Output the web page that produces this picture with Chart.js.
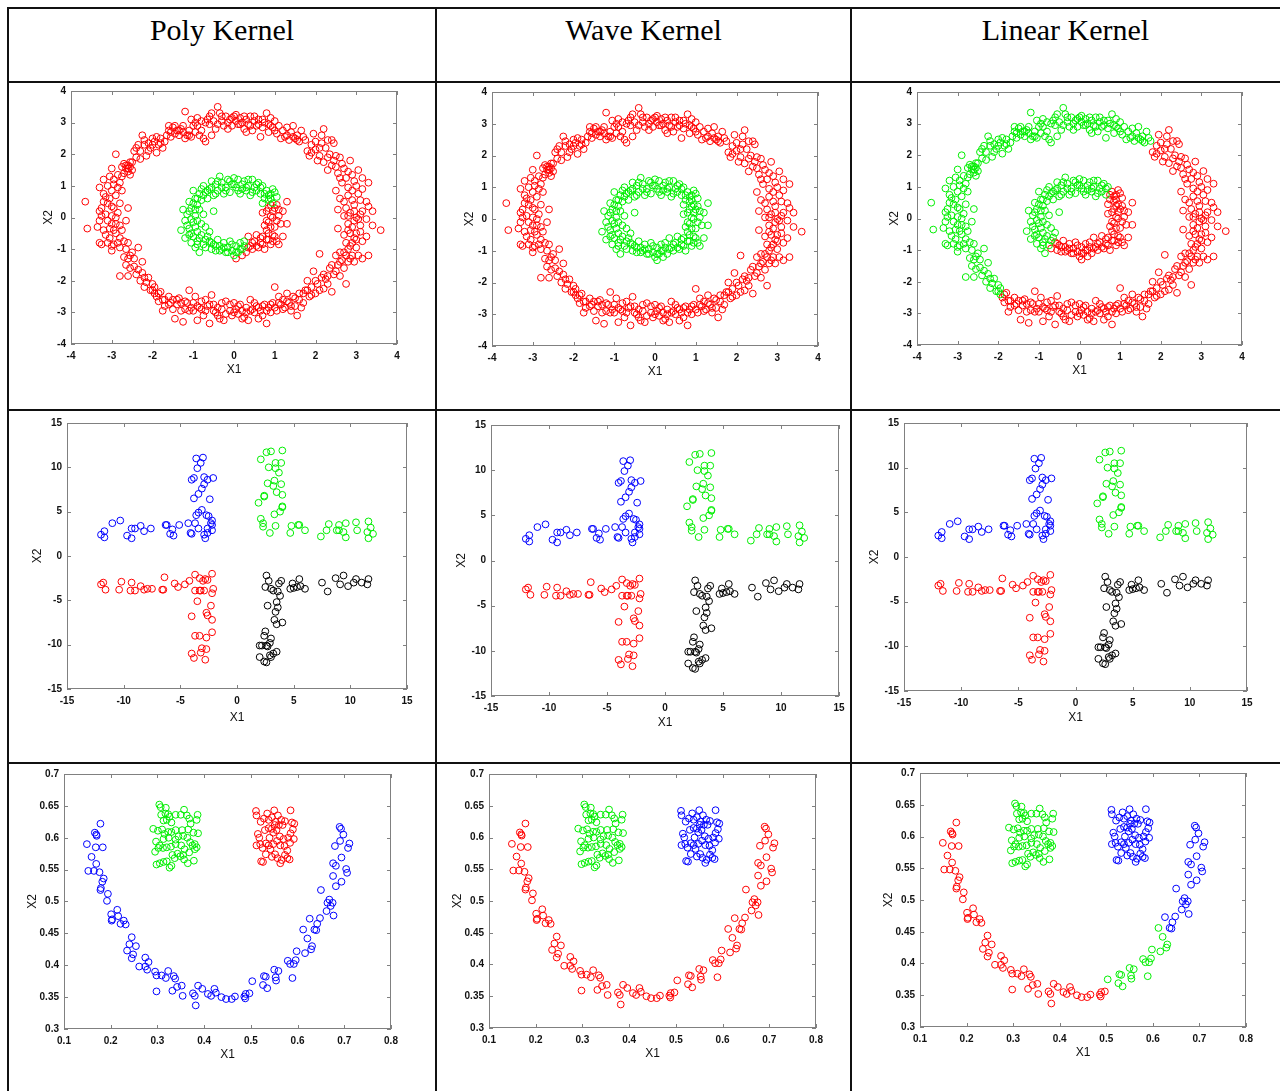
<!DOCTYPE html>
<html>
<head>
<meta charset="utf-8">
<script src="https://cdn.jsdelivr.net/npm/chart.js@4.4.1/dist/chart.umd.min.js"></script>
<style>
  html, body { margin: 0; padding: 0; background: #fff; }
  body { width: 1280px; height: 1091px; position: relative; overflow: hidden; }
  .line { position: absolute; background: #111; }
  .head { position: absolute; top: 15px; height: 30px; line-height: 30px; font-family: 'Liberation Serif', 'DejaVu Serif', serif; font-size: 30px; color: #000; text-align: center; }
  canvas { position: absolute; }
</style>
</head>
<body>
<script>
// column titles
const kernels = ['Poly Kernel', 'Wave Kernel', 'Linear Kernel'];

// tick labels
const ringTicks = [-4, -3, -2, -1, 0, 1, 2, 3, 4];
const crossTicks = [-15, -10, -5, 0, 5, 10, 15];
const smileXTicks = [0.1, 0.2, 0.3, 0.4, 0.5, 0.6, 0.7, 0.8];
const smileYTicks = [0.3, 0.35, 0.4, 0.45, 0.5, 0.55, 0.6, 0.65, 0.7];

// ---- row 1 : two rings ----
// outer ring, upper-left half (green under Linear kernel)
const outerA = [[1.75,2.45],[1.7,2.55],[1.6,2.4],[1.55,2.6],[1.5,2.5],[1.45,2.9],[1.4,2.7],[1.35,2.45],[1.3,2.6],[1.25,2.55],[1.2,2.75],[1.1,2.9],[1.05,2.65],[1.0,3.05],[0.95,2.85],[0.9,2.9],[0.85,2.95],[0.8,3.3],[0.75,3.0],[0.7,3.1],[0.65,2.55],[0.6,3.1],[0.55,2.9],[0.5,3.05],[0.45,2.75],[0.4,3.2],[0.35,2.95],[0.3,3.1],[0.25,2.8],[0.2,3.0],[0.15,3.15],[0.1,2.95],[0.05,3.05],[0.0,3.2],[-0.05,2.9],[-0.1,3.1],[-0.15,3.0],[-0.2,3.2],[-0.25,2.9],[-0.3,3.05],[-0.35,3.3],[-0.4,3.5],[-0.45,2.8],[-0.5,3.05],[-0.55,3.3],[-0.6,2.95],[-0.65,3.1],[-0.7,2.4],[-0.75,2.5],[-0.8,3.05],[-0.85,2.6],[-0.9,3.15],[-0.95,2.7],[-1.0,2.9],[-1.05,2.55],[-1.1,2.75],[-1.15,2.6],[-1.2,3.35],[-1.25,2.7],[-1.3,2.8],[-1.35,2.6],[-1.4,2.75],[-1.45,2.65],[-1.5,2.85],[-1.55,2.7],[-1.6,2.9],[-1.65,2.6],[-1.7,2.4],[-1.75,2.2],[-1.8,2.5],[-1.85,2.3],[-1.9,2.05],[-1.95,2.4],[-2.0,2.5],[-2.05,2.2],[-2.1,2.35],[-2.15,1.95],[-2.2,2.45],[-2.25,2.6],[-2.3,2.1],[-2.35,2.3],[-2.4,1.9],[-2.45,2.1],[-2.5,1.75],[-2.55,1.6],[-2.6,1.65],[-2.65,1.55],[-2.6,1.45],[-2.55,1.35],[-2.7,1.7],[-2.75,1.3],[-2.8,1.1],[-2.9,2.0],[-2.95,1.2],[-3.0,1.55],[-2.85,0.95],[-3.1,1.0],[-3.2,1.2],[-3.3,0.95],[-2.9,0.7],[-3.05,0.6],[-3.2,0.75],[-2.95,0.3],[-3.1,0.45],[-3.25,0.3],[-3.3,0.2],[-2.85,0.15],[-3.0,0.05],[-3.15,0.1],[-3.3,-0.1],[-2.9,-0.2],[-3.05,-0.35],[-3.2,-0.4],[-3.35,-0.3],[-2.75,-0.4],[-2.9,-0.5],[-3.65,0.5],[-3.6,-0.35],[-2.6,0.3],[-2.65,-0.1],[-3.25,-0.85],[-3.1,-0.8],[-2.95,-0.85],[-2.8,-0.95],[-3.0,-1.05],[-2.7,-0.75],[-2.6,-0.8],[-2.55,-1.2],[-2.7,-1.25],[-2.35,-0.95],[-2.65,-1.5],[-2.55,-1.6],[-2.45,-1.3],[-2.8,-1.85],[-2.6,-1.85],[-2.4,-1.8],[-2.25,-1.75],[-2.25,-1.4],[-2.3,-2.0],[-2.2,-2.2],[-2.1,-1.9],[-2.05,-2.3],[-2.0,-2.1],[-1.95,-2.4],
  [1.65,2.75],[1.55,2.45],[1.45,2.55],[1.3,2.85],[1.15,2.5],[1.0,2.75],[0.9,3.15],[0.85,2.7],[0.7,2.85],[0.6,2.95],[0.5,3.2],[0.4,2.9],[0.3,2.7],[0.25,3.2],[0.15,2.95],[0.05,3.25],[-0.05,3.15],[-0.15,2.8],[-0.3,3.2],[-0.4,2.95],[-0.55,2.6],[-0.6,3.2],[-0.7,3.0],[-0.8,2.75],[-0.9,2.9],[-0.95,3.0],[-1.05,3.1],[-1.1,2.6],[-1.2,2.5],[-1.25,2.9],[-1.35,2.75],[-1.45,2.9],[-1.55,2.55],[-1.6,2.75],[-1.8,2.35],[-1.9,2.55],[-2.0,2.3],[-2.1,2.1],[-2.2,2.3],[-2.3,1.85],[-2.4,2.2],[-2.5,1.5],[-2.55,1.75],[-2.6,1.55],[-2.7,1.4],[-2.65,1.65],[-2.75,1.6],[-2.85,1.35],[-2.95,1.05],[-3.05,1.3],[-2.75,0.85],[-3.0,0.85],[-3.15,0.65],[-2.8,0.45],[-3.0,0.35],[-3.2,0.5],[-2.9,0.0],[-3.1,-0.1],[-3.25,0.05],[-2.8,-0.25],[-3.0,-0.2],[-3.15,-0.55],[-2.95,-0.4],[-2.8,-0.65],[-3.05,-0.65],[-3.3,-0.8],[-2.85,-0.8],[-3.0,-0.9],[-2.65,-1.0],[-2.5,-1.1],[-2.6,-1.3],[-2.45,-1.55],[-2.35,-1.65],[-2.2,-1.9],[-2.15,-2.05],[-2.0,-2.3],[-1.95,-2.2]];
// outer ring, lower-right half
const outerB = [[-1.9,-2.5],[-1.85,-2.65],[-1.8,-2.35],[-1.75,-2.6],[-1.7,-2.8],[-1.75,-2.95],[-1.6,-2.5],[-1.55,-2.7],[-1.5,-2.6],[-1.45,-3.2],[-1.4,-2.75],[-1.35,-2.55],[-1.3,-2.7],[-1.25,-3.3],[-1.2,-2.9],[-1.15,-2.7],[-1.1,-2.3],[-1.05,-2.85],[-1.0,-2.95],[-0.95,-2.5],[-0.9,-3.25],[-0.85,-2.85],[-0.8,-2.9],[-0.75,-3.1],[-0.7,-2.6],[-0.65,-2.8],[-0.6,-3.35],[-0.55,-2.45],[-0.5,-2.75],[-0.45,-3.0],[-0.4,-2.85],[-0.35,-3.2],[-0.3,-2.9],[-0.25,-3.25],[-0.2,-2.65],[-0.1,-2.95],[-0.05,-3.1],[0.0,-2.7],[0.05,-2.9],[0.1,-3.05],[0.15,-2.75],[0.2,-2.95],[0.25,-3.15],[0.3,-2.85],[0.35,-3.25],[0.4,-2.6],[0.45,-2.9],[0.5,-3.0],[0.55,-2.8],[0.6,-3.2],[0.65,-2.95],[0.7,-3.1],[0.75,-2.75],[0.8,-3.35],[0.85,-2.85],[0.9,-3.0],[0.95,-2.7],[1.0,-2.2],[1.05,-2.95],[1.1,-2.5],[1.15,-2.75],[1.2,-2.6],[1.25,-2.85],[1.3,-2.4],[1.35,-2.7],[1.4,-2.95],[1.45,-2.5],[1.5,-2.8],[1.55,-3.1],[1.6,-2.6],[1.65,-2.85],[1.7,-2.4],[1.75,-2.3],[1.8,-2.0],[1.85,-2.5],[1.9,-2.2],[1.95,-1.7],[2.0,-2.4],[2.05,-2.1],[2.1,-1.15],[2.15,-1.9],[2.2,-2.25],[2.25,-1.95],[2.3,-2.1],[2.35,-1.6],[2.4,-2.35],[2.45,-1.8],[2.5,-1.2],[2.55,-1.5],[2.6,-1.85],[2.6,-1.1],[2.65,-1.35],[2.7,-1.6],[2.75,-2.1],[2.75,-1.2],[2.8,-1.0],[2.85,-1.3],[2.9,-0.8],[2.95,-1.4],[3.0,-0.95],[3.05,-1.2],[3.15,-1.3],[2.7,-0.55],[2.85,-0.5],[2.95,-0.65],[3.1,-0.45],[3.25,-0.6],[3.3,-1.2],[3.6,-0.4],[2.55,-0.35],[2.8,-0.2],[2.95,-0.1],[3.1,-0.25],[3.25,-0.05],[3.4,-0.25],[2.7,0.05],[2.85,0.15],[3.0,0.0],[3.15,0.2],[3.4,0.2],[2.55,0.25],[2.75,0.3],[2.95,0.4],[3.1,0.55],[3.25,0.5],[2.6,0.6],[2.8,0.7],[2.9,0.85],[3.0,1.0],[3.15,0.9],[3.3,1.1],[2.5,0.85],[2.65,1.1],[2.75,1.25],[2.9,1.35],[3.05,1.5],[2.55,1.4],[2.7,1.55],[2.85,1.8],[2.4,1.65],[2.5,1.95],[2.6,1.9],[2.3,1.5],[2.2,1.75],[2.35,2.0],[2.45,2.35],[2.05,1.8],[2.1,2.2],[2.15,2.6],[2.0,2.4],[1.85,1.95],[1.9,2.3],[2.2,2.8],[2.4,2.45],[1.95,2.65],[1.8,2.1],
  [-1.85,-2.4],[-1.7,-2.6],[-1.6,-2.75],[-1.5,-2.9],[-1.4,-2.6],[-1.3,-2.95],[-1.2,-2.65],[-1.1,-2.95],[-1.0,-2.7],[-0.9,-2.8],[-0.8,-2.65],[-0.7,-2.95],[-0.6,-2.75],[-0.5,-2.95],[-0.4,-3.1],[-0.3,-2.7],[-0.2,-3.05],[-0.1,-2.75],[0.0,-3.0],[0.1,-2.8],[0.2,-3.2],[0.3,-3.0],[0.4,-2.95],[0.5,-2.7],[0.6,-2.85],[0.7,-2.8],[0.8,-2.95],[0.9,-2.75],[1.0,-2.85],[1.1,-2.7],[1.2,-2.9],[1.3,-2.65],[1.4,-2.8],[1.5,-2.55],[1.6,-2.4],[1.7,-2.7],[1.8,-2.3],[1.9,-2.45],[2.0,-2.0],[2.1,-2.3],[2.2,-1.8],[2.3,-1.85],[2.4,-1.5],[2.5,-1.7],[2.6,-1.4],[2.7,-1.1],[2.8,-1.4],[2.85,-0.9],[2.9,-1.2],[3.0,-0.7],[2.75,-0.8],[2.8,-0.4],[3.0,-0.5],[3.15,-0.75],[2.9,-0.3],[3.05,-0.05],[2.8,0.05],[2.95,0.2],[3.1,0.1],[3.3,0.35],[2.9,0.55],[3.05,0.75],[2.7,0.5],[2.8,0.95],[2.95,1.15],[3.15,1.25],[2.6,1.25],[2.8,1.45],[2.65,1.7],[2.5,1.6],[2.45,1.8],[2.3,1.9],[2.25,2.2],[2.1,1.95],[2.0,2.15],[1.9,2.05],[2.3,2.45],[2.15,2.35]];
// inner ring, top and left (always green)
const innerA = [[0.7,1.0],[0.65,0.75],[0.6,1.1],[0.55,0.85],[0.5,0.95],[0.45,1.2],[0.4,0.7],[0.35,1.0],[0.3,0.85],[0.25,1.15],[0.2,0.9],[0.15,0.75],[0.1,1.2],[0.05,0.95],[0.0,1.25],[-0.05,1.05],[-0.1,0.8],[-0.15,1.2],[-0.2,0.95],[-0.25,0.75],[-0.3,1.1],[-0.35,1.3],[-0.4,0.85],[-0.45,1.05],[-0.5,0.7],[-0.55,1.15],[-0.6,0.9],[-0.65,0.6],[-0.7,0.8],[-0.75,1.0],[-0.8,0.55],[-0.85,0.75],[-0.9,0.4],[-0.95,0.6],[-1.0,0.85],[-1.05,0.3],[-1.1,0.5],[-0.85,0.25],[-1.15,0.1],[-0.95,0.05],[-1.25,0.25],[-0.75,0.1],[-0.5,0.2],[-1.2,-0.1],[-1.0,-0.15],[-0.8,-0.2],[-1.3,-0.4],[-1.1,-0.35],[-0.9,-0.45],[-0.7,-0.3],[-1.2,-0.65],[-1.0,-0.6],[-0.8,-0.55],[-0.6,-0.45],[-1.05,-0.8],[-0.85,-1.1],[-0.9,-0.75],[-0.7,-0.7],[-0.95,-0.95],
  [0.65,0.95],[0.55,1.05],[0.45,0.8],[0.35,1.2],[0.3,0.95],[0.2,1.05],[0.1,0.85],[0.0,1.05],[-0.1,1.15],[-0.2,0.85],[-0.3,0.95],[-0.4,1.15],[-0.45,0.75],[-0.55,0.95],[-0.65,0.85],[-0.75,0.7],[-0.8,0.9],[-0.9,0.6],[-1.0,0.45],[-0.95,0.25],[-1.1,0.2],[-1.05,-0.05],[-0.9,-0.1],[-1.15,-0.25],[-0.95,-0.3],[-1.05,-0.5],[-0.85,-0.65],[-1.1,-0.55],[-0.75,-0.85],[-0.9,-0.85],[-0.65,-0.6]];
// inner ring, bottom
const innerB = [[-0.6,-0.75],[-0.55,-1.0],[-0.5,-0.85],[-0.45,-1.05],[-0.4,-0.7],[-0.35,-0.9],[-0.3,-1.0],[-0.25,-0.8],[-0.2,-1.1],[-0.15,-0.95],[-0.1,-0.75],[-0.05,-1.05],[0.0,-1.2],[0.05,-0.9],[0.1,-1.1],[0.15,-0.8],[0.2,-1.0],[0.25,-0.75],[-0.7,-0.95],
  [-0.55,-0.8],[-0.45,-0.9],[-0.35,-1.05],[-0.25,-0.95],[-0.15,-1.1],[-0.05,-0.85],[0.05,-1.1],[0.15,-1.0],[0.25,-0.9]];
// inner ring, right side
const innerC = [[0.05,-1.3],[0.2,-1.2],[0.3,-1.1],[0.35,-0.6],[0.4,-0.9],[0.45,-1.0],[0.5,-0.75],[0.55,-0.55],[0.6,-0.95],[0.65,-0.8],[0.7,-0.6],[0.75,-1.0],[0.8,-0.4],[0.85,-0.7],[0.9,-0.85],[0.95,-0.55],[1.0,-0.3],[0.8,-0.1],[0.9,0.05],[1.05,-0.75],[1.1,-0.85],[1.15,-0.2],[0.95,0.2],[1.0,0.3],[1.2,0.2],[1.3,0.5],[1.2,-0.6],[0.85,0.3],[1.1,0.05],[0.7,0.15],[0.75,-0.25],[1.3,-0.2],
  [0.35,-0.95],[0.45,-0.8],[0.55,-0.9],[0.65,-0.65],[0.7,-0.85],[0.8,-0.7],[0.85,-0.5],[0.9,-0.3],[0.95,-0.75],[1.0,-0.6],[0.85,-0.15],[1.05,-0.1],[0.95,0.0],[1.1,0.25],[0.9,0.4],[1.05,0.4],[0.8,0.2]];
// inner ring, upper-right
const innerD = [[0.75,0.6],[0.8,0.85],[0.85,0.55],[0.9,0.75],[0.95,0.45],[1.0,0.8],[1.05,0.65],[0.7,0.45],[0.75,0.75],[0.9,0.6],[0.95,0.9],[0.85,0.7]];

// ---- row 2 : four crosses ----
const crossBlue = [[-12,2.4],[-11.7,2.8],[-11.7,2.1],[-11,3.7],[-10.3,4.0],[-9.7,2.3],[-9.3,2.0],[-9.3,3.1],[-9,3.1],[-8.5,3.4],[-8.2,2.8],[-7.6,3.1],[-6.3,3.5],[-6.2,3.5],[-5.9,2.5],[-5.7,3.0],[-5.6,2.3],[-5.1,3.5],[-4.3,3.7],[-4.1,2.6],[-4.0,2.5],[-3.7,3.7],[-3.4,3.1],[-2.9,2.4],[-2.8,2.0],[-2.6,2.6],[-2.2,2.9],[-2.3,3.7],[-2.2,3.5],[-2.6,3.1],[-3.6,11.0],[-3.0,11.1],[-3.2,10.5],[-3.5,9.9],[-4.0,8.6],[-3.8,8.8],[-2.9,8.9],[-2.6,8.6],[-2.1,8.8],[-2.9,8.1],[-3.1,7.6],[-3.4,7.0],[-3.8,6.5],[-2.4,6.4],[-3.6,4.6],[-3.4,4.9],[-3.1,5.2],[-2.7,4.6],[-2.5,4.5],[-2.2,4.0]];
const crossGreen = [[2.1,10.9],[2.6,11.7],[3.0,11.8],[4.0,11.9],[3.4,10.5],[3.9,10.5],[2.8,10.0],[3.4,9.9],[3.7,9.4],[2.7,8.2],[3.3,8.5],[3.9,8.1],[3.2,7.9],[3.5,7.2],[2.4,6.8],[2.4,6.7],[4.0,6.9],[1.9,6.0],[4.0,5.5],[4.0,5.6],[3.3,4.7],[3.8,5.0],[2.1,4.2],[2.3,3.7],[2.3,3.3],[3.4,3.4],[2.9,2.6],[4.7,2.6],[4.8,3.4],[5.4,3.5],[5.5,3.5],[6.0,2.9],[7.4,2.2],[7.9,2.9],[8.1,3.6],[8.8,2.9],[9.0,2.9],[9.0,3.5],[9.4,2.7],[9.6,3.7],[9.6,2.1],[10.5,3.8],[10.6,2.9],[11.5,2.7],[11.6,3.9],[11.6,2.0],[11.8,3.2],[12.0,2.5]];
const crossRed = [[-12.0,-3.2],[-11.8,-3.0],[-11.6,-3.8],[-10.4,-3.8],[-10.2,-2.9],[-9.3,-3.0],[-9.4,-3.9],[-9.0,-3.9],[-8.5,-3.4],[-8.2,-3.8],[-7.9,-3.7],[-7.5,-3.7],[-6.6,-3.8],[-6.4,-2.4],[-6.5,-3.8],[-5.5,-3.1],[-5.2,-3.5],[-4.6,-3.2],[-4.2,-2.8],[-3.7,-2.1],[-3.7,-3.9],[-3.3,-2.5],[-3.0,-2.8],[-2.8,-2.6],[-2.6,-2.7],[-2.2,-2.0],[-3.3,-3.9],[-3.2,-3.9],[-2.9,-3.9],[-2.1,-3.7],[-2.2,-4.2],[-3.5,-5.1],[-2.3,-5.6],[-4.0,-6.8],[-2.7,-6.4],[-2.6,-6.7],[-2.2,-7.2],[-2.2,-8.6],[-3.7,-9.0],[-3.3,-9.0],[-2.7,-9.2],[-3.1,-10.4],[-2.7,-10.5],[-4.0,-11.0],[-3.2,-10.9],[-3.8,-11.5],[-2.8,-11.7]];
const crossBlack = [[2.6,-2.2],[2.8,-2.8],[2.5,-3.5],[3.0,-3.7],[3.2,-3.9],[3.7,-3.1],[3.9,-2.8],[3.6,-4.0],[3.8,-4.5],[3.5,-5.2],[2.7,-5.6],[3.6,-5.8],[3.4,-6.3],[3.3,-7.2],[3.5,-7.7],[4.0,-7.5],[2.5,-8.5],[2.4,-9.0],[3.0,-9.3],[2.9,-9.8],[2.6,-10.1],[2.0,-10.1],[2.2,-10.1],[2.7,-10.2],[3.5,-10.8],[3.2,-11.0],[3.0,-11.4],[2.9,-11.2],[2.0,-11.4],[2.4,-11.9],[2.6,-12.0],[4.7,-3.7],[4.9,-3.1],[5.0,-3.6],[5.3,-3.5],[5.5,-2.6],[5.6,-3.4],[6.0,-3.7],[7.5,-3.0],[8.0,-4.0],[8.7,-2.5],[9.1,-3.2],[9.4,-2.2],[9.8,-3.4],[10.3,-3.0],[10.5,-2.6],[11.0,-3.0],[11.5,-3.2],[11.6,-2.6]];

// ---- row 3 : smiley ----
const smileLeft = [[0.149,0.590],[0.152,0.548],[0.159,0.570],[0.164,0.548],[0.166,0.608],[0.169,0.605],[0.170,0.603],[0.168,0.585],[0.169,0.559],[0.178,0.622],[0.183,0.585],[0.176,0.546],[0.185,0.536],[0.182,0.531],[0.179,0.521],[0.178,0.518],[0.194,0.512],[0.192,0.501],[0.201,0.480],[0.202,0.470],[0.203,0.472],[0.214,0.487],[0.216,0.477],[0.221,0.465],[0.228,0.470],[0.232,0.464],[0.245,0.444],[0.240,0.433],[0.254,0.430],[0.235,0.423],[0.248,0.417],[0.245,0.411],[0.261,0.398],[0.274,0.412],[0.281,0.405],[0.274,0.398],[0.278,0.393],[0.295,0.390],[0.298,0.384],[0.298,0.359],[0.309,0.384],[0.323,0.391],[0.318,0.380],[0.335,0.383],[0.338,0.379],[0.332,0.360],[0.342,0.366],[0.352,0.368],[0.354,0.352],[0.376,0.356],[0.380,0.352],[0.382,0.337],[0.387,0.368],[0.396,0.363],[0.408,0.355],[0.415,0.352],[0.422,0.363],[0.425,0.357],[0.437,0.350],[0.447,0.347],[0.459,0.347],[0.466,0.351],[0.486,0.351],[0.489,0.355],[0.488,0.348],[0.497,0.356]];
const smileMid = [[0.503,0.375],[0.526,0.369],[0.528,0.383],[0.532,0.382],[0.535,0.364],[0.550,0.393],[0.553,0.381],[0.554,0.376],[0.559,0.391],[0.579,0.407],[0.584,0.402],[0.589,0.380],[0.592,0.402],[0.596,0.408],[0.598,0.422],[0.616,0.419],[0.612,0.456],[0.621,0.442],[0.629,0.425],[0.631,0.430]];
const smileRight = [[0.626,0.473],[0.636,0.456],[0.640,0.455],[0.642,0.465],[0.648,0.474],[0.650,0.518],[0.662,0.485],[0.664,0.498],[0.668,0.503],[0.671,0.493],[0.675,0.498],[0.677,0.478],[0.676,0.540],[0.676,0.560],[0.682,0.556],[0.680,0.587],[0.682,0.524],[0.691,0.595],[0.690,0.617],[0.693,0.614],[0.698,0.605],[0.694,0.569],[0.694,0.531],[0.704,0.551],[0.706,0.545],[0.711,0.591],[0.708,0.584]];
const eyeLeft = [[0.304,0.652],[0.307,0.648],[0.318,0.647],[0.308,0.636],[0.317,0.638],[0.323,0.637],[0.313,0.627],[0.320,0.628],[0.330,0.624],[0.326,0.633],[0.339,0.636],[0.350,0.636],[0.357,0.644],[0.363,0.635],[0.368,0.630],[0.371,0.622],[0.386,0.636],[0.384,0.628],[0.291,0.614],[0.301,0.611],[0.310,0.613],[0.315,0.606],[0.323,0.609],[0.330,0.609],[0.339,0.612],[0.345,0.602],[0.353,0.612],[0.366,0.613],[0.377,0.608],[0.387,0.607],[0.297,0.594],[0.305,0.588],[0.313,0.598],[0.324,0.600],[0.339,0.597],[0.355,0.603],[0.364,0.600],[0.370,0.593],[0.375,0.588],[0.380,0.590],[0.384,0.585],[0.295,0.578],[0.302,0.584],[0.312,0.584],[0.320,0.585],[0.329,0.586],[0.339,0.590],[0.351,0.588],[0.358,0.582],[0.368,0.577],[0.380,0.582],[0.298,0.558],[0.305,0.560],[0.313,0.562],[0.320,0.563],[0.326,0.553],[0.330,0.556],[0.337,0.568],[0.343,0.575],[0.349,0.571],[0.357,0.566],[0.365,0.560],[0.378,0.564],[0.355,0.573],[0.332,0.573]];
const eyeRight = [[0.511,0.642],[0.512,0.635],[0.521,0.625],[0.528,0.630],[0.535,0.638],[0.538,0.628],[0.545,0.632],[0.550,0.643],[0.553,0.625],[0.558,0.635],[0.560,0.620],[0.568,0.620],[0.573,0.626],[0.585,0.643],[0.588,0.624],[0.593,0.622],[0.515,0.606],[0.518,0.600],[0.530,0.612],[0.538,0.615],[0.545,0.614],[0.548,0.608],[0.555,0.612],[0.562,0.602],[0.570,0.598],[0.580,0.600],[0.585,0.607],[0.590,0.613],[0.592,0.598],[0.512,0.588],[0.520,0.590],[0.525,0.584],[0.532,0.591],[0.538,0.588],[0.542,0.582],[0.548,0.590],[0.556,0.595],[0.563,0.588],[0.572,0.587],[0.578,0.580],[0.584,0.592],[0.522,0.563],[0.526,0.562],[0.532,0.574],[0.545,0.570],[0.552,0.574],[0.557,0.568],[0.563,0.560],[0.566,0.565],[0.573,0.573],[0.578,0.568],[0.583,0.566],[0.540,0.600],[0.551,0.620],[0.565,0.628]];

const RED = '#ff0000', GREEN = '#00ee00', BLUE = '#0000ff', BLACK = '#000000';

// table lines
function line(x, y, w, h) {
  const d = document.createElement('div');
  d.className = 'line';
  Object.assign(d.style, { left: x + 'px', top: y + 'px', width: w + 'px', height: h + 'px' });
  document.body.appendChild(d);
}
line(7, 7, 1273, 2);
line(7, 81, 1273, 2);
line(7, 409, 1273, 2);
line(7, 762, 1273, 2);
line(7, 7, 2, 1084);
line(435, 7, 2, 1084);
line(850, 7, 2, 1084);

const cols = [[8, 436], [436, 851], [851, 1280]];
kernels.forEach((k, i) => {
  const d = document.createElement('div');
  d.className = 'head';
  d.textContent = k;
  d.style.left = cols[i][0] + 'px';
  d.style.width = (cols[i][1] - cols[i][0]) + 'px';
  document.body.appendChild(d);
});

// frame + inward ticks on all four sides
const framePlugin = {
  id: 'frame',
  afterDraw(chart) {
    const { ctx, chartArea: a, scales: { x, y } } = chart;
    ctx.save();
    ctx.strokeStyle = '#808080';
    ctx.lineWidth = 1;
    ctx.strokeRect(Math.round(a.left) + 0.5, Math.round(a.top) + 0.5, Math.round(a.right - a.left) - 1, Math.round(a.bottom - a.top) - 1);
    ctx.beginPath();
    x.ticks.forEach(t => {
      const px = Math.round(x.getPixelForValue(t.value)) + 0.5;
      ctx.moveTo(px, a.bottom); ctx.lineTo(px, a.bottom - 4);
      ctx.moveTo(px, a.top); ctx.lineTo(px, a.top + 4);
    });
    y.ticks.forEach(t => {
      const py = Math.round(y.getPixelForValue(t.value)) + 0.5;
      ctx.moveTo(a.left, py); ctx.lineTo(a.left + 4, py);
      ctx.moveTo(a.right, py); ctx.lineTo(a.right - 4, py);
    });
    ctx.stroke();
    ctx.restore();
  }
};

const tickFont = { family: "'Liberation Sans', Arial, sans-serif", size: 10, weight: 'bold' };
const titleFont = { family: "'Liberation Sans', Arial, sans-serif", size: 12 };

function makeChart(box, groups, xTicks, yTicks, yw, xh) {
  const [L, T, R, B] = box;
  const padT = 8, padR = 14;
  const canvas = document.createElement('canvas');
  const w = R - L + yw + padR, h = B - T + padT + xh;
  canvas.width = w; canvas.height = h;
  canvas.style.left = (L - yw) + 'px';
  canvas.style.top = (T - padT) + 'px';
  canvas.style.width = w + 'px';
  canvas.style.height = h + 'px';
  document.body.appendChild(canvas);

  const fmt = v => String(+(+v).toFixed(2));
  new Chart(canvas, {
    type: 'scatter',
    data: {
      datasets: groups.map(([pts, color]) => ({
        data: pts.map(p => ({ x: p[0], y: p[1] })),
        borderColor: color,
        backgroundColor: 'rgba(0,0,0,0)',
        pointRadius: 3.4,
        pointBorderWidth: 1,
        pointHoverRadius: 3.4
      }))
    },
    options: {
      responsive: false,
      animation: false,
      devicePixelRatio: 1,
      layout: { padding: { top: padT, right: padR, left: 0, bottom: 0 } },
      plugins: { legend: { display: false }, tooltip: { enabled: false } },
      scales: {
        x: {
          type: 'linear',
          min: xTicks[0], max: xTicks[xTicks.length - 1],
          afterBuildTicks: s => { s.ticks = xTicks.map(v => ({ value: v })); },
          afterFit: s => { s.height = xh; },
          grid: { display: false, drawTicks: false },
          border: { display: false },
          ticks: { color: '#111', font: tickFont, padding: 6, maxRotation: 0, autoSkip: false, callback: fmt },
          title: { display: true, text: 'X1', color: '#111', font: titleFont, padding: { top: 0, bottom: 1 } }
        },
        y: {
          type: 'linear',
          min: yTicks[0], max: yTicks[yTicks.length - 1],
          afterBuildTicks: s => { s.ticks = yTicks.map(v => ({ value: v })); },
          afterFit: s => { s.width = yw; },
          grid: { display: false, drawTicks: false },
          border: { display: false },
          ticks: { color: '#111', font: tickFont, padding: 5, autoSkip: false, callback: fmt },
          title: { display: true, text: 'X2', color: '#111', font: titleFont, padding: 0 }
        }
      }
    },
    plugins: [framePlugin]
  });
}

// row 1
makeChart([71, 88, 397, 344], [[outerA, RED], [outerB, RED], [innerA, GREEN], [innerB, GREEN], [innerD, GREEN], [innerC, RED]], ringTicks, ringTicks, 30, 34);
makeChart([492, 89, 818, 346], [[outerA, RED], [outerB, RED], [innerA, GREEN], [innerB, GREEN], [innerC, GREEN], [innerD, GREEN]], ringTicks, ringTicks, 30, 34);
makeChart([917, 89, 1242, 345], [[outerA, GREEN], [outerB, RED], [innerA, GREEN], [innerB, RED], [innerC, RED], [innerD, RED]], ringTicks, ringTicks, 30, 34);

// row 2
const crossGroups = [[crossBlue, BLUE], [crossGreen, GREEN], [crossRed, RED], [crossBlack, BLACK]];
makeChart([67, 420, 407, 689], crossGroups, crossTicks, crossTicks, 37, 37);
makeChart([491, 422, 839, 696], crossGroups, crossTicks, crossTicks, 37, 35);
makeChart([904, 420, 1247, 691], crossGroups, crossTicks, crossTicks, 37, 35);

// row 3
makeChart([64, 771, 391, 1029], [[smileLeft, BLUE], [smileMid, BLUE], [smileRight, BLUE], [eyeLeft, GREEN], [eyeRight, RED]], smileXTicks, smileYTicks, 39, 34);
makeChart([489, 771, 816, 1028], [[smileLeft, RED], [smileMid, RED], [smileRight, RED], [eyeLeft, GREEN], [eyeRight, BLUE]], smileXTicks, smileYTicks, 39, 34);
makeChart([920, 770, 1246, 1027], [[smileLeft, RED], [smileMid, GREEN], [smileRight, BLUE], [eyeLeft, GREEN], [eyeRight, BLUE]], smileXTicks, smileYTicks, 39, 34);
</script>
</body>
</html>
